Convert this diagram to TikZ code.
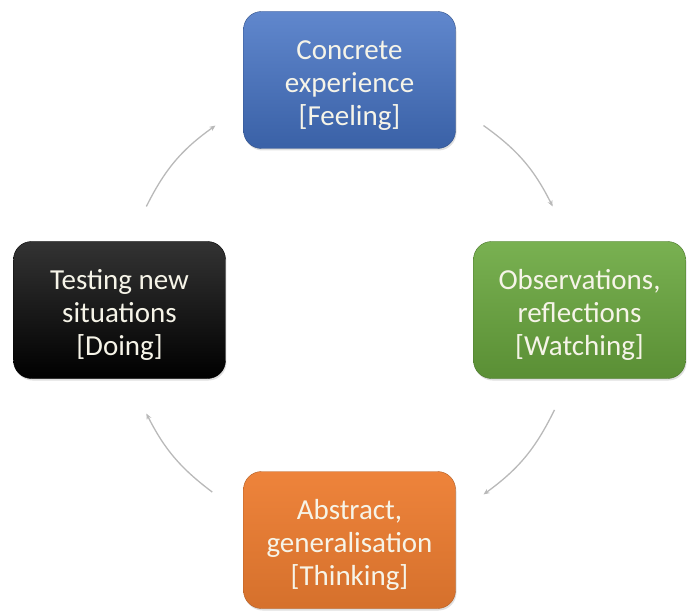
\documentclass[tikz,border=0pt]{standalone}
\usepackage{fontspec}
\setmainfont{Carlito}
\usetikzlibrary{arrows.meta,shadows}
\definecolor{feelblue}{RGB}{68,114,196}
\definecolor{watchgreen}{RGB}{106,168,62}
\definecolor{thinkorange}{RGB}{237,125,49}
\definecolor{boxtext}{RGB}{246,244,232}
\newcommand\stagestrut{\rule{0pt}{30pt}}
\tikzset{
  stage/.style={rounded corners=18pt, minimum width=212pt, minimum height=137pt,
    align=center, text=boxtext, font=\fontsize{29}{33}\selectfont,
    drop shadow={opacity=0.25, shadow xshift=1pt, shadow yshift=-2pt}},
  cycle/.style={-{Stealth[length=6pt,width=5pt]}, draw=gray!55, line width=1.3pt}
}
\begin{document}
\begin{tikzpicture}
      \useasboundingbox (-349.5pt,-300pt) rectangle (342.5pt,310pt);
      \node[stage, top color=feelblue!85!white, bottom color=feelblue!85!black, draw=feelblue!70!black]
        (feel) at (90:230pt) {\stagestrut Concrete\\experience\\{[}Feeling{]}};
      \node[stage, top color=watchgreen!90!white, bottom color=watchgreen!85!black, draw=watchgreen!70!black]
        (watch) at (0:230pt) {\stagestrut Observations,\\reflections\\{[}Watching{]}};
      \node[stage, top color=thinkorange!95!white, bottom color=thinkorange!90!black, draw=thinkorange!75!black]
        (think) at (270:230pt) {\stagestrut Abstract,\\generalisation\\{[}Thinking{]}};
      \node[stage, top color=black!80, bottom color=black, draw=black]
        (do) at (180:230pt) {\stagestrut Testing new\\situations\\{[}Doing{]}};
      \path
        (54:228pt) coordinate (feel out)
        (27:228pt) coordinate (watch in)
        (-26:228pt) coordinate (watch out)
        (-54:228pt) coordinate (think in)
        (-127:228pt) coordinate (think out)
        (-153:228pt) coordinate (do in)
        (153:228pt) coordinate (do out)
        (126:228pt) coordinate (feel in);
      \begin{scope}[cycle]
        \draw (feel out) to[bend left=14] (watch in);
        \draw (watch out) to[bend left=14] (think in);
        \draw (think out) to[bend left=13] (do in);
        \draw (do out) to[bend left=14] (feel in);
      \end{scope}
    \end{tikzpicture}
\end{document}
